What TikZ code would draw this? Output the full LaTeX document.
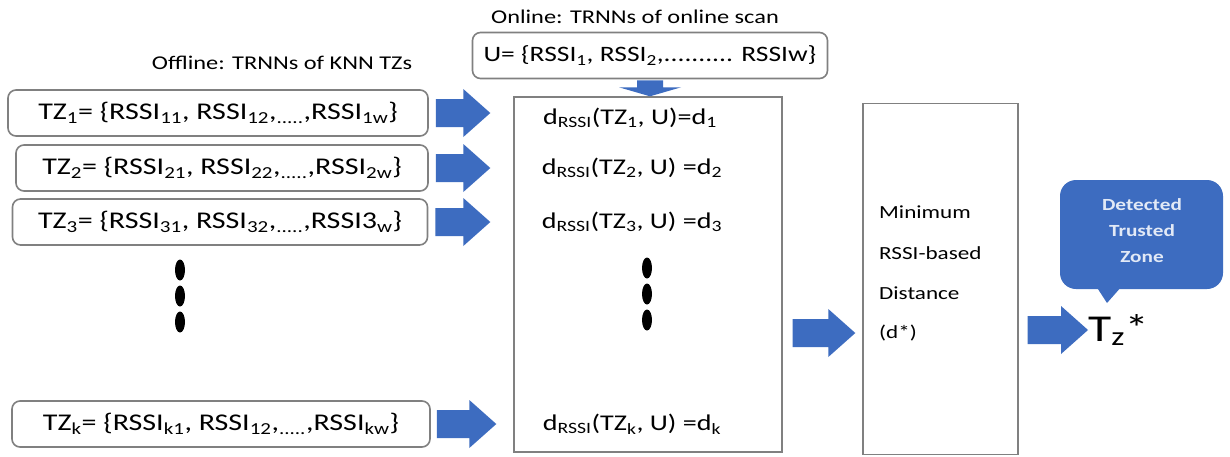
\documentclass[tikz,border=0pt]{standalone}
\usepackage{fontspec}
\setmainfont{Carlito}[FakeStretch=1.25]
\usetikzlibrary{calc,shapes.geometric}
\definecolor{arrowblue}{RGB}{61,108,192}
\definecolor{boxgray}{RGB}{128,128,128}
\tikzset{
  tzbox/.style={draw=boxgray, line width=1.6pt, rounded corners=8pt, minimum height=46pt, inner sep=0pt, font=\fontsize{24}{28}\selectfont},
  bigbox/.style={draw=boxgray, line width=1.4pt, inner sep=0pt},
  rowtext/.style={font=\fontsize{22.5}{26}\selectfont, inner sep=0pt},
  captext/.style={font=\fontsize{19.5}{23}\selectfont, inner sep=0pt},
  steptext/.style={font=\fontsize{18.5}{22}\selectfont, inner sep=0pt, anchor=west},
  vdot/.style={fill=black, ellipse, minimum width=10pt, minimum height=21pt, inner sep=0pt},
}
\newcommand{\hblock}[2]{%
  \fill[arrowblue] let \p1=#1, \p2=#2 in
    (\x1,\y1+14pt) -- (\x2-27pt,\y1+14pt) -- (\x2-27pt,\y1+24pt) -- (\x2,\y1)
    -- (\x2-27pt,\y1-24pt) -- (\x2-27pt,\y1-14pt) -- (\x1,\y1-14pt) -- cycle;}
\newcommand{\sub}[1]{\textsubscript{#1}}
\begin{document}
\begin{tikzpicture}[x=1pt,y=1pt]
\useasboundingbox (0,0) rectangle (1230,-456);
\fill[white] (0,0) rectangle (1230,-456);

% captions
\node[captext] (offcap) at (282,-63) {Offline: TRNNs of KNN TZs};
\node[captext] (oncap) at (635,-17) {Online: TRNNs of online scan};

% left boxes
\node[tzbox, minimum width=420pt] (b1) at (218,-113) {TZ\sub{1}= \{RSSI\sub{11}, RSSI\sub{12},\sub{.....},RSSI\sub{1w}\}};
\node[tzbox, minimum width=412pt] (b2) at (222,-168) {TZ\sub{2}= \{RSSI\sub{21}, RSSI\sub{22},\sub{.....},RSSI\sub{2w}\}};
\node[tzbox, minimum width=415pt] (b3) at (220,-222) {TZ\sub{3}= \{RSSI\sub{31}, RSSI\sub{32},\sub{.....},RSSI3\sub{w}\}};
\node[tzbox, minimum width=418pt] (bk) at (221,-424) {TZ\sub{k}= \{RSSI\sub{k1}, RSSI\sub{12},\sub{.....},RSSI\sub{kw}\}};
\node[vdot] (ld1) at (180,-270) {};
\node[vdot] (ld2) at (180,-296) {};
\node[vdot] (ld3) at (180,-322) {};

% online box
\node[tzbox, minimum width=355pt, minimum height=46pt, font=\fontsize{22}{26}\selectfont] (u) at (650,-55.5) {U= \{RSSI\sub{1}, RSSI\sub{2},.......... RSSIw\}};

% middle box
\node[bigbox, minimum width=268pt, minimum height=355pt] (mid) at (648,-274.5) {};
\node[rowtext] (r1) at (630,-118) {d\sub{RSSI}(TZ\sub{1}, U)=d\sub{1}};
\node[rowtext] (r2) at (632,-168) {d\sub{RSSI}(TZ\sub{2}, U) =d\sub{2}};
\node[rowtext] (r3) at (632,-222) {d\sub{RSSI}(TZ\sub{3}, U) =d\sub{3}};
\node[rowtext] (rk) at (632,-424) {d\sub{RSSI}(TZ\sub{k}, U) =d\sub{k}};
\node[vdot] (md1) at (647,-268) {};
\node[vdot] (md2) at (647,-294) {};
\node[vdot] (md3) at (647,-320) {};

% third box
\node[bigbox, minimum width=155pt, minimum height=351pt] (minb) at (940.5,-279) {};
\node[steptext] (t1) at (879,-212) {Minimum};
\node[steptext] (t2) at (879,-253) {RSSI-based};
\node[steptext] (t3) at (879,-293) {Distance};
\node[steptext] (t4) at (879,-333) {(d*)};

% result
\node[font=\fontsize{38}{40}\selectfont, inner sep=0pt, anchor=west] (tz) at (1088,-330) {T\textsubscript{z}*};

% callout
\fill[arrowblue, rounded corners=16pt] (1060,-180) rectangle (1223,-289);
\node[font=\fontsize{17}{26}\selectfont\bfseries, text=white!85!arrowblue, align=center, inner sep=0pt] (callout) at (1142,-231) {Detected\\Trusted\\Zone};
\fill[arrowblue] (1096,-286) -- (1107,-303) -- (1122,-286) -- cycle;

% block arrows
\hblock{($(b1.east)+(7,0)$)}{($(mid.west |- b1.east)+(-23,0)$)}
\hblock{($(b2.east)+(7,0)$)}{($(mid.west |- b2.east)+(-23,0)$)}
\hblock{($(b3.east)+(7,0)$)}{($(mid.west |- b3.east)+(-23,0)$)}
\hblock{($(bk.east)+(6,0)$)}{($(mid.west |- bk.east)+(-17,0)$)}
\hblock{($(mid.east |- t4.west)+(10,0)$)}{($(minb.west |- t4.west)+(-7,0)$)}
\hblock{($(minb.east |- tz.west)+(9,0)$)}{(tz.west)}

% down arrow
\fill[arrowblue] let \p1=(u.south), \p2=(mid.north) in
  (\x1-13pt,\y1-1pt) -- (\x1+13pt,\y1-1pt) -- (\x1+13pt,\y1-8pt) -- (\x1+31pt,\y1-8pt)
  -- (\x1,\y2) -- (\x1-31pt,\y1-8pt) -- (\x1-13pt,\y1-8pt) -- cycle;
\end{tikzpicture}
\end{document}
